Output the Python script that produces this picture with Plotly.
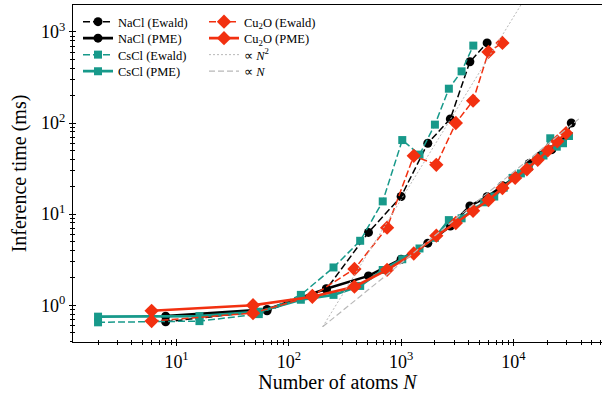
import plotly.graph_objects as go

# ---------------- data ----------------
nacl_N = [8, 64, 216, 512, 1000, 1728, 2744, 4096, 5832, 8000, 10648, 13824, 17576, 21952, 27000, 32768]
nacl_ewald_t = [0.66, 0.87, 1.5, 6.3, 15.6, 60, 111, 470, 757]
nacl_pme_t = [0.76, 0.9, 1.52, 2.1, 3.2, 4.8, 7.4, 12.3, 15.5, 20.5, 26, 36, 44, 51, 62, 100]

cscl_N = [2, 16, 54, 128, 250, 432, 686, 1024, 1458, 2000, 2662, 3456, 4394, 5488, 6750, 8192,
          9826, 11664, 13718, 16000, 18522, 21296, 24334, 27648, 31250]
cscl_ewald_t = [0.65, 0.67, 0.80, 1.30, 2.6, 5.1, 13.8, 65, 45, 96, 238, 369, 707]
cscl_pme_t = [0.75, 0.76, 0.85, 1.15, 1.3, 1.63, 2.44, 3.2, 4.2, 5.5, 8.6, 9.0, 11.2, 13.5, 15.6, 19.5,
              25, 28, 33, 39, 44, 68, 55, 60, 72]

cu2o_N = [6, 48, 162, 384, 750, 1296, 2058, 3072, 4374, 6000, 7986, 10368, 13182, 16464, 20250, 24576, 29478]
cu2o_ewald_t = [0.67, 0.82, 1.27, 2.5, 7.1, 43.7, 34.8, 100, 176, 603, 757]
cu2o_pme_t = [0.87, 1.0, 1.24, 1.6, 2.45, 3.7, 5.8, 8.0, 10.9, 14.3, 19.3, 25, 31, 39.5, 50, 63, 77.6]

ref_N = [200, 40000]
ref_quadratic_t = [0.58, 23200]
ref_linear_t = [0.58, 116]

x_major = [10, 100, 1000, 10000]
x_major_text = ["10<sup>1</sup>", "10<sup>2</sup>", "10<sup>3</sup>", "10<sup>4</sup>"]
y_major = [1, 10, 100, 1000]
y_major_text = ["10<sup>0</sup>", "10<sup>1</sup>", "10<sup>2</sup>", "10<sup>3</sup>"]
x_minor = [m * d for d in [1, 10, 100, 1000, 10000] for m in range(2, 10)]
y_minor = [m * d for d in [0.1, 1, 10, 100] for m in range(2, 10)]

# ---------------- style ----------------
BLACK = "#000000"
TEAL = "#17998a"
RED = "#f23010"
GREY = "#b8b8b8"
FONT = "Liberation Serif"
DASH = "7px,3px"

# plot area in pixels (for legend placement)
L, T, W, H = 73, 5, 529, 337
ROW_Y = [22, 38.5, 55, 71.5]
COL_X = [78, 204]


def legend_box(col, row):
    return dict(x=(COL_X[col] - L) / W, y=1 - (ROW_Y[row] - T) / H, xanchor="left", yanchor="middle",
                bgcolor="rgba(0,0,0,0)", font=dict(family=FONT, size=12.5, color="black"),
                itemwidth=30, borderwidth=0)


fig = go.Figure()
legend_slots = {}


def add(x, y, name, color, symbol, msize, dashed, slot):
    fig.add_trace(go.Scatter(
        x=x[:len(y)], y=y, name=name, mode="lines+markers",
        line=dict(color=color, width=1.5 if dashed else 2.6, dash=DASH if dashed else "solid"),
        marker=dict(color=color, symbol=symbol, size=msize, line=dict(width=0)),
        legend=slot,
    ))


add(nacl_N, nacl_ewald_t, "NaCl (Ewald)", BLACK, "circle", 9, True, "legend")
add(nacl_N, nacl_pme_t, "NaCl (PME)", BLACK, "circle", 9, False, "legend2")
add(cscl_N, cscl_ewald_t, "CsCl (Ewald)", TEAL, "square", 8, True, "legend3")
add(cscl_N, cscl_pme_t, "CsCl (PME)", TEAL, "square", 8, False, "legend4")
add(cu2o_N, cu2o_ewald_t, "Cu<sub>2</sub>O (Ewald)", RED, "diamond", 11, True, "legend5")
add(cu2o_N, cu2o_pme_t, "Cu<sub>2</sub>O (PME)", RED, "diamond", 11, False, "legend6")

fig.add_trace(go.Scatter(x=ref_N, y=ref_quadratic_t, mode="lines", name="∝ <i>N</i><sup>2</sup>",
                         line=dict(color=GREY, width=1, dash="2px,2px"), legend="legend7"))
fig.add_trace(go.Scatter(x=ref_N, y=ref_linear_t, mode="lines", name="∝ <i>N</i>",
                         line=dict(color=GREY, width=1.2, dash="6px,3px"), legend="legend8"))

# dummy trace for inner tick overlay
fig.add_trace(go.Scatter(x=[None], y=[None], xaxis="x2", yaxis="y2", showlegend=False, hoverinfo="skip"))

XR = [0.078, 4.789]
YR = [-0.403, 3.295]

axis_common = dict(type="log", showgrid=False, zeroline=False, color="black", automargin=False,
                   tickfont=dict(family=FONT, size=18, color="black"))

fig.update_layout(
    template="none",
    width=602, height=393,
    margin=dict(l=L, r=602 - L - W, t=T, b=393 - T - H, autoexpand=False),
    paper_bgcolor="white", plot_bgcolor="white",
    font=dict(family=FONT, color="black"),
    xaxis=dict(**axis_common, range=XR, showline=True, linecolor="black", linewidth=1.3, mirror=True,
               tickmode="array", tickvals=x_major, ticktext=x_major_text,
               ticks="outside", ticklen=3, tickwidth=1, tickcolor="black",
               minor=dict(tickmode="array", tickvals=x_minor, ticks="outside", ticklen=2, tickwidth=0.8,
                          tickcolor="black"),
               title=dict(text="Number of atoms <i>N</i>", font=dict(family=FONT, size=20), standoff=4)),
    yaxis=dict(**axis_common, range=YR, showline=True, linecolor="black", linewidth=1.3, mirror=False,
               tickmode="array", tickvals=y_major, ticktext=y_major_text,
               ticks="outside", ticklen=3, tickwidth=1, tickcolor="black",
               minor=dict(tickmode="array", tickvals=y_minor, ticks="outside", ticklen=2, tickwidth=0.8,
                          tickcolor="black"),
               title=dict(text="Inference time (ms)", font=dict(family=FONT, size=20), standoff=8)),
    xaxis2=dict(type="log", overlaying="x", anchor="y2", range=XR, showgrid=False, zeroline=False,
                automargin=False, showline=False, showticklabels=False, tickmode="array", tickvals=x_major,
                ticks="inside", ticklen=3, tickwidth=1, tickcolor="black",
                minor=dict(tickmode="array", tickvals=x_minor, ticks="inside", ticklen=2, tickwidth=0.8,
                           tickcolor="black")),
    yaxis2=dict(type="log", overlaying="y", anchor="x2", range=YR, showgrid=False, zeroline=False,
                automargin=False, showline=False, showticklabels=False, tickmode="array", tickvals=y_major,
                ticks="inside", ticklen=3, tickwidth=1, tickcolor="black",
                minor=dict(tickmode="array", tickvals=y_minor, ticks="inside", ticklen=2, tickwidth=0.8,
                           tickcolor="black")),
    legend=legend_box(0, 0),
    legend2=legend_box(0, 1),
    legend3=legend_box(0, 2),
    legend4=legend_box(0, 3),
    legend5=legend_box(1, 0),
    legend6=legend_box(1, 1),
    legend7=legend_box(1, 2),
    legend8=legend_box(1, 3),
)

fig.write_html("out.html", config={"displayModeBar": False},
               post_script="document.body.style.margin='0';document.body.style.overflow='hidden';")
